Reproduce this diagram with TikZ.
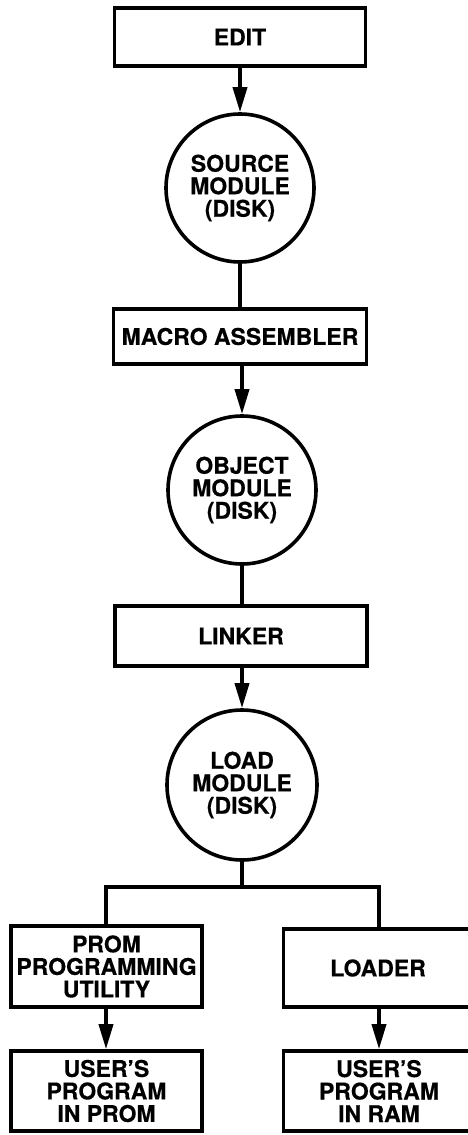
\documentclass[tikz,border=0pt]{standalone}
\usepackage{fontspec}
\setmainfont{TeX Gyre Heros}[BoldFeatures={FakeBold=0.4}]
\usetikzlibrary{arrows.meta}
\begin{document}
\begin{tikzpicture}[x=1pt,y=-1pt,
  lw/.style={line width=3.6pt},
  txt/.style={align=center,font=\fontsize{23}{22.5}\selectfont\bfseries},
  box/.style={draw,lw,rectangle,inner sep=0pt,txt},
  disk/.style={draw,lw,circle,inner sep=0pt,minimum size=148pt,txt},
  conn/.style={lw},
  arr/.style={lw,-{Triangle[length=25pt,width=14pt]}}]
\useasboundingbox (0,0) rectangle (468,1135);
\clip (0,0) rectangle (468,1135);
\node[box,minimum width=251pt,minimum height=58pt] (edit) at (240,37) {EDIT};
\node[disk] (src) at (240,188) {SOURCE\\MODULE\\(DISK)};
\node[box,minimum width=253pt,minimum height=55pt] (asm) at (240,336.5) {MACRO ASSEMBLER};
\node[disk] (obj) at (242,490) {OBJECT\\MODULE\\(DISK)};
\node[box,minimum width=252pt,minimum height=60pt] (link) at (241,636) {LINKER};
\node[disk,minimum size=150pt] (load) at (242,785) {LOAD\\MODULE\\(DISK)};
\node[box,minimum width=191pt,minimum height=81pt] (prom) at (106.5,966.5) {PROM\\PROGRAMMING\\UTILITY};
\node[box,minimum width=200pt,minimum height=78pt] (loader) at (383.5,968) {};
\node[txt] (loadertxt) at (378,968) {LOADER};
\node[box,minimum width=191pt,minimum height=80pt] (uprom) at (106.5,1091) {USER’S\\PROGRAM\\IN PROM};
\node[box,minimum width=200pt,minimum height=80pt] (uram) at (383.5,1091) {};
\node[txt] (uramtxt) at (379,1091) {USER’S\\PROGRAM\\IN RAM};
\coordinate (split) at (242,887);
\coordinate (sl) at (106,887);
\coordinate (sr) at (379,887);
\draw[arr] (edit.south) -- (src.north);
\draw[conn] (src.south) -- (asm.north);
\draw[arr] (asm.south -| obj.north) -- (obj.north);
\draw[conn] (obj.south) -- (link.north -| obj.south);
\draw[arr] (link.south -| load.north) -- (load.north);
\draw[conn] (load.south) -- (split);
\draw[conn,line cap=rect] (sl) -- (sr);
\draw[conn] (sl) -- (sl |- prom.north);
\draw[conn] (sr) -- (sr |- loader.north);
\draw[arr] (prom.south -| sl) -- (uprom.north -| sl);
\draw[arr] (loader.south -| sr) -- (uram.north -| sr);
\end{tikzpicture}
\end{document}
